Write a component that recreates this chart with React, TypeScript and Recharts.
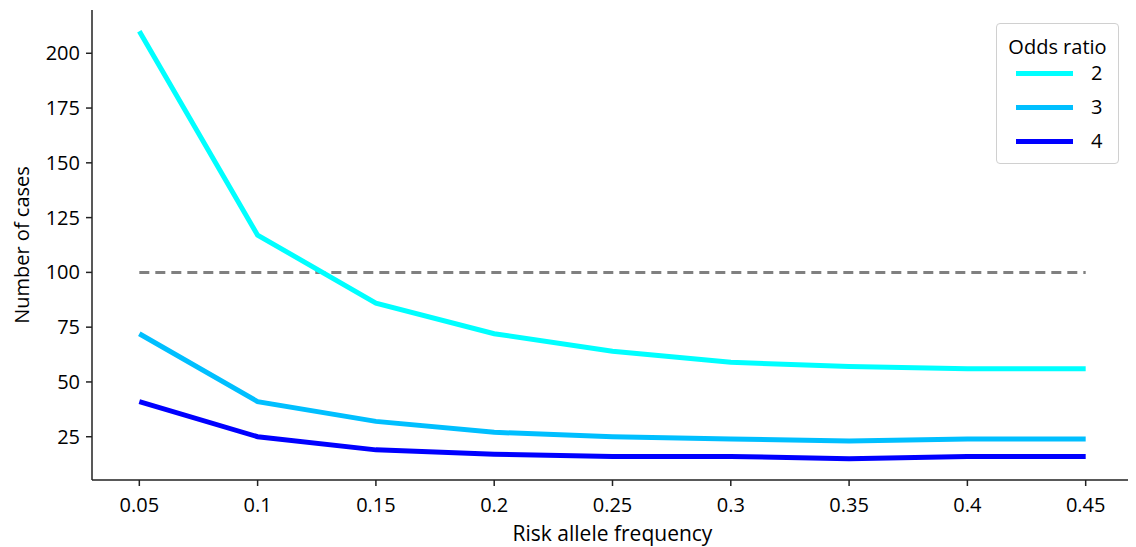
import React from "react";
import { LineChart, Line, XAxis, YAxis } from "recharts";

const frequencies = [0.05, 0.1, 0.15, 0.2, 0.25, 0.3, 0.35, 0.4, 0.45];
const or2 = [210, 117, 86, 72, 64, 59, 57, 56, 56];
const or3 = [72, 41, 32, 27, 25, 24, 23, 24, 24];
const or4 = [41, 25, 19, 17, 16, 16, 15, 16, 16];
const threshold = [100, 100, 100, 100, 100, 100, 100, 100, 100];
const xTicks = [0.05, 0.1, 0.15, 0.2, 0.25, 0.3, 0.35, 0.4, 0.45];
const yTicks = [25, 50, 75, 100, 125, 150, 175, 200];
const seriesNames = ["2", "3", "4"];
const seriesColors = ["#00FFFF", "#00BFFF", "#0000FF"];

const data = frequencies.map((f, i) => ({
  f,
  s2: or2[i],
  s3: or3[i],
  s4: or4[i],
  thr: threshold[i],
}));

const FONT = "'Open Sans', sans-serif";

const LegendBox = () => (
  <div
    style={{
      position: "absolute",
      left: 988,
      top: 15,
      width: 123,
      height: 141,
      border: "1px solid #d0d0d0",
      borderRadius: 4,
      background: "#fff",
      fontFamily: FONT,
      color: "#000",
      boxSizing: "border-box",
    }}
  >
    <div style={{ textAlign: "center", fontSize: 20, lineHeight: "24px", marginTop: 11, height: 24 }}>
      Odds ratio
    </div>
    {seriesNames.map((n, i) => (
      <div key={n} style={{ display: "flex", alignItems: "center", height: 34, marginTop: i === 0 ? -3 : 0 }}>
        <div style={{ width: 57, height: 5, background: seriesColors[i], marginLeft: 19 }} />
        <div style={{ marginLeft: 18, fontSize: 20, lineHeight: "24px" }}>{n}</div>
      </div>
    ))}
  </div>
);

export default function App() {
  return (
    <div style={{ position: "relative", width: 1128, height: 539 }}>
      <LineChart
        width={1128}
        height={539}
        data={data}
        margin={{ top: 2, right: 3, left: 10, bottom: 7 }}
      >
        <XAxis
          dataKey="f"
          type="number"
          domain={[0.03, 0.47]}
          ticks={xTicks}
          tickFormatter={(v: number) => String(Number(v.toFixed(2)))}
          stroke="#222"
          strokeWidth={1.5}
          tickSize={6}
          tickMargin={12}
          tick={{ fill: "#000", fontSize: 20, fontFamily: FONT }}
          height={60}
          label={{
            value: "Risk allele frequency",
            position: "insideBottom",
            offset: -1,
            fill: "#000",
            fontSize: 21,
            fontFamily: FONT,
          }}
        />
        <YAxis
          type="number"
          domain={[5.25, 219.75]}
          ticks={yTicks}
          stroke="#222"
          strokeWidth={1.5}
          tickSize={6}
          tickMargin={6}
          tick={{ fill: "#000", fontSize: 20, fontFamily: FONT }}
          width={74}
          label={{
            value: "Number of cases",
            angle: -90,
            position: "insideLeft",
            offset: 4,
            style: { textAnchor: "middle" },
            fill: "#000",
            fontSize: 20,
            fontFamily: FONT,
          }}
        />
        <Line
          dataKey="thr"
          stroke="#808080"
          strokeWidth={3}
          strokeDasharray="10 6"
          dot={false}
          isAnimationActive={false}
          legendType="none"
        />
        <Line dataKey="s2" name={seriesNames[0]} stroke={seriesColors[0]} strokeWidth={5} dot={false} isAnimationActive={false} />
        <Line dataKey="s3" name={seriesNames[1]} stroke={seriesColors[1]} strokeWidth={5} dot={false} isAnimationActive={false} />
        <Line dataKey="s4" name={seriesNames[2]} stroke={seriesColors[2]} strokeWidth={5} dot={false} isAnimationActive={false} />
      </LineChart>
      <LegendBox />
    </div>
  );
}
